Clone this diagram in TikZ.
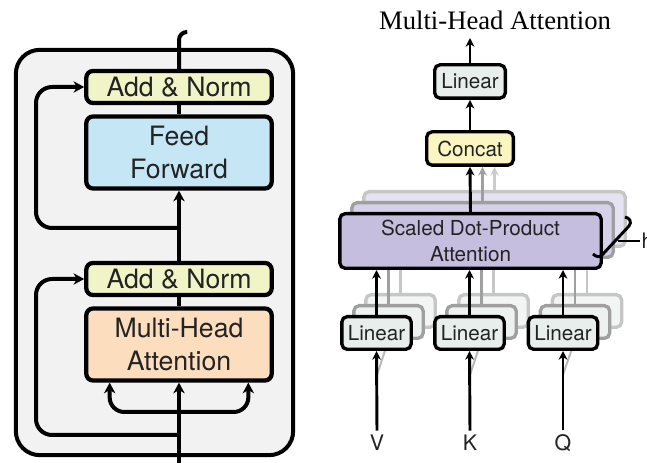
\documentclass[tikz,border=0pt]{standalone}
\usepackage{fontspec}
\setmainfont{Liberation Serif}
\setsansfont{TeX Gyre Heros}
\usetikzlibrary{arrows.meta,calc}

\definecolor{panelgrey}{RGB}{242,242,242}
\definecolor{normfill}{RGB}{241,244,199}
\definecolor{fffill}{RGB}{197,230,245}
\definecolor{mhafill}{RGB}{252,221,190}
\definecolor{linfill}{RGB}{232,238,236}
\definecolor{catfill}{RGB}{251,246,193}
\definecolor{attnfill}{RGB}{197,190,223}
\definecolor{textgrey}{RGB}{35,35,35}

\begin{document}
\begin{tikzpicture}[x=0.75pt, y=-0.75pt,
    box/.style={draw, line width=3.2pt, rounded corners=5pt, inner sep=2pt, align=center,
      text=textgrey, font=\sffamily\fontsize{20}{25}\selectfont},
    small/.style={draw, line width=2.5pt, rounded corners=4pt, inner sep=2pt, align=center,
      text=textgrey, font=\sffamily\fontsize{15.5}{19}\selectfont},
    ghost/.style={draw=gray!75, line width=2.5pt, rounded corners=4pt, inner sep=0pt},
    faint/.style={draw=gray!45, line width=2.5pt, rounded corners=4pt, inner sep=0pt},
    wire/.style={line width=3pt, >={Stealth[length=8pt, width=8.5pt, inset=2.5pt]}},
    thinwire/.style={line width=2.2pt, >={Stealth[length=6.5pt, width=6.5pt, inset=2pt]}},
    letter/.style={text=textgrey, font=\sffamily\fontsize{16}{18}\selectfont}]
    \useasboundingbox (0,0) rectangle (647,463);
    \clip (0,0) rectangle (647,463);

    % encoder layer
    \node [draw, line width=3pt, fill=panelgrey, rounded corners=18pt,
      minimum width=208pt, minimum height=304pt] (layer) at (154.5,252.5) {};
    \node [box, fill=normfill, minimum width=139pt, minimum height=24pt] (addtop) at (179,87) {Add \& Norm};
    \node [box, fill=fffill, minimum width=139pt, minimum height=54pt] (ff) at (179,152.5) {Feed\\Forward};
    \node [box, fill=normfill, minimum width=139pt, minimum height=24pt] (addbot) at (179,279) {Add \& Norm};
    \node [box, fill=mhafill, minimum width=139pt, minimum height=54pt] (mha) at (179,344.5) {Multi-Head\\Attention};

    \coordinate (in) at (179,470);
    \coordinate (fork) at (179,412);
    \coordinate (skip1) at (179,435);
    \coordinate (turn1) at (36,279);
    \coordinate (skip2) at (179,228);
    \coordinate (turn2) at (36,87);
    \coordinate (out) at (186,32);

    \draw [wire, ->] (in) to (mha.south);
    \draw [wire, ->, rounded corners=11pt] (fork) -| ([xshift=-52pt]mha.south);
    \draw [wire, ->, rounded corners=11pt] (fork) -| ([xshift=52pt]mha.south);
    \draw [wire, ->, rounded corners=12pt] (skip1) -| (turn1) -- (addbot.west);
    \draw [wire] (mha.north) to (addbot.south);
    \draw [wire, ->] (addbot.north) to (ff.south);
    \draw [wire, ->, rounded corners=12pt] (skip2) -| (turn2) -- (addtop.west);
    \draw [wire] (ff.north) to (addtop.south);
    \draw [wire, rounded corners=6pt] (addtop.north) |- (out);

    % multi-head attention
    \node [text=black, font=\rmfamily\fontsize{20}{24}\selectfont] (title) at (495,20) {Multi-Head Attention};
    \node [small, fill=linfill, minimum width=53pt, minimum height=25pt] (linout) at (470,81.5) {Linear};
    \node [small, fill=catfill, minimum width=65pt, minimum height=25pt] (concat) at (470,148.5) {Concat};

    \node [faint, fill=attnfill!45, minimum width=196pt, minimum height=41pt] (sdpa3) at (494.5,219) {};
    \node [ghost, fill=attnfill!70, minimum width=196pt, minimum height=41pt] (sdpa2) at (482.5,230) {};
    \node [small, fill=attnfill, minimum width=196pt, minimum height=41pt] (sdpa) at (470.5,241) {Scaled Dot-Product\\Attention};

    \coordinate (mhaout) at (470,38);
    \draw [thinwire, ->, draw=gray!40] (sdpa3.north) to (sdpa3.north |- concat.south);
    \draw [thinwire, ->, draw=gray!75] (sdpa2.north) to (sdpa2.north |- concat.south);
    \draw [thinwire, ->] (sdpa.north) to (concat.south);
    \draw [thinwire, ->] (concat.north) to (linout.south);
    \draw [thinwire, ->] (linout.north) to (mhaout);

    % inputs
    \node [letter] (v) at (377,443) {V};
    \node [letter] (k) at (470,443) {K};
    \node [letter] (q) at (563,443) {Q};

    % V projection
    \node [faint, fill=linfill!60, minimum width=52pt, minimum height=24.5pt] (linv3) at (400.5,311) {};
    \node [ghost, fill=linfill!80, minimum width=52pt, minimum height=24.5pt] (linv2) at (388.5,322) {};
    \draw [thinwire, draw=gray!45] (linv3.north) to (linv3.north |- sdpa.south);
    \draw [thinwire, draw=gray!75] (linv2.north) to (linv2.north |- sdpa.south);
    \draw [line width=1.5pt, draw=gray!55] ($(v.north)!0.7!(377,351)$) to (linv2.south);
    \node [small, fill=linfill, minimum width=52pt, minimum height=24.5pt] (linv) at (376.5,333) {Linear};

    % K projection
    \node [faint, fill=linfill!60, minimum width=52pt, minimum height=24.5pt] (link3) at (493.5,311) {};
    \node [ghost, fill=linfill!80, minimum width=52pt, minimum height=24.5pt] (link2) at (481.5,322) {};
    \draw [thinwire, draw=gray!45] (link3.north) to (link3.north |- sdpa.south);
    \draw [thinwire, draw=gray!75] (link2.north) to (link2.north |- sdpa.south);
    \draw [line width=1.5pt, draw=gray!55] ($(k.north)!0.7!(470,351)$) to (link2.south);
    \node [small, fill=linfill, minimum width=52pt, minimum height=24.5pt] (link) at (469.5,333) {Linear};

    % Q projection
    \node [faint, fill=linfill!60, minimum width=52pt, minimum height=24.5pt] (linq3) at (587,311) {};
    \node [ghost, fill=linfill!80, minimum width=52pt, minimum height=24.5pt] (linq2) at (575,322) {};
    \draw [thinwire, draw=gray!45] (linq3.north) to (linq3.north |- sdpa.south);
    \draw [thinwire, draw=gray!75] (linq2.north) to (linq2.north |- sdpa.south);
    \draw [line width=1.5pt, draw=gray!55] ($(q.north)!0.7!(563,351)$) to (linq2.south);
    \node [small, fill=linfill, minimum width=52pt, minimum height=24.5pt] (linq) at (563,333) {Linear};

    \draw [thinwire, ->] (linv.north) to (linv.north |- sdpa.south);
    \draw [thinwire, ->] (link.north) to (link.north |- sdpa.south);
    \draw [thinwire, ->] (linq.north) to (linq.north |- sdpa.south);
    \draw [thinwire, ->] (v.north) to (linv.south);
    \draw [thinwire, ->] (k.north) to (link.south);
    \draw [thinwire, ->] (q.north) to (linq.south);

    % heads brace
    \node [letter, anchor=west, inner sep=1pt] (h) at (640,241) {h};
    \draw [thinwire] (625,217) .. controls (630,218) and (632,222) .. (629,226)
      -- (603,254) .. controls (600,258) and (596,257) .. (593,254);
    \draw [line width=1.2pt] (618,241) to (h.west);
\end{tikzpicture}
\end{document}
